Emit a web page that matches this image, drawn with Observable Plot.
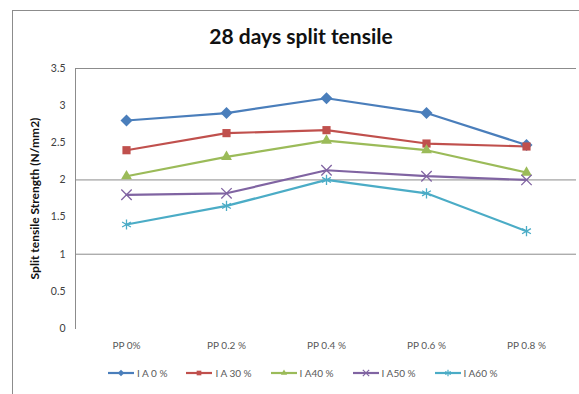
<!DOCTYPE html>
<html>
<head>
<meta charset="utf-8">
<script src="https://cdn.jsdelivr.net/npm/d3@7"></script>
<script src="https://cdn.jsdelivr.net/npm/@observablehq/plot@0.6"></script>
<style>
  html, body { margin: 0; padding: 0; background: #fff; overflow: hidden; }
  #wrap { position: relative; width: 579px; height: 394px; font-family: Lato, "Open Sans", sans-serif; }
  #border { position: absolute; left: 12px; top: 10px; width: 700px; height: 500px;
            border-left: 1px solid #8c8c8c; border-top: 1px solid #8c8c8c; }
  #title { position: absolute; left: 0; width: 602px; top: 23px; text-align: center;
           font-weight: bold; font-size: 21px; color: #111; }
  #chart { position: absolute; left: 0; top: 0; }
  #legend { position: absolute; top: 367px; left: 108px; display: flex; font-size: 10px; color: #595959; }
  #legend .item { display: flex; align-items: center; margin-right: 19px; }
  #legend svg { display: block; margin-right: 3px; }
</style>
</head>
<body>
<div id="wrap">
  <div id="border"></div>
  <div id="title">28 days split tensile</div>
  <div id="chart"></div>
  <div id="legend"></div>
</div>
<script>
// Fibre dosage categories along the x axis
const categories = ["PP 0%", "PP 0.2 %", "PP 0.4 %", "PP 0.6 %", "PP 0.8 %"];

// Split tensile strength (N/mm2) at 28 days for each replacement level
const seriesNames = ["I A 0 %", "I A 30 %", "I A40 %", "I A50 %", "I A60 %"];
const la0  = [2.80, 2.90, 3.10, 2.90, 2.47];
const la30 = [2.40, 2.63, 2.67, 2.49, 2.45];
const la40 = [2.05, 2.31, 2.53, 2.40, 2.10];
const la50 = [1.80, 1.82, 2.13, 2.05, 2.00];
const la60 = [1.40, 1.65, 2.00, 1.82, 1.31];

const yTicks = [0, 0.5, 1, 1.5, 2, 2.5, 3, 3.5];
const gridValues = [1, 2, 3.5];

const colors  = ["#4a7ebb", "#c0504d", "#9bbb59", "#8064a2", "#4bacc6"];
const symbols = ["diamond2", "square2", "triangle2", "times", "asterisk"];

const allSeries = [la0, la30, la40, la50, la60];
const rows = allSeries.flatMap((vals, s) =>
  vals.map((v, i) => ({series: seriesNames[s], cat: categories[i], value: v})));

const chart = Plot.plot({
  width: 579,
  height: 394,
  marginLeft: 75,
  marginRight: 3,
  marginTop: 68,
  marginBottom: 66,
  style: {fontFamily: "Lato, 'Open Sans', sans-serif", background: "transparent"},
  x: {type: "point", domain: categories, padding: 0.5},
  y: {domain: [0, 3.5]},
  color: {domain: seriesNames, range: colors},
  symbol: {domain: seriesNames, range: symbols},
  marks: [
    Plot.ruleY(gridValues, {stroke: "#8c8c8c", strokeWidth: 1, strokeOpacity: 1}),
    Plot.frame({anchor: "left", stroke: "#8c8c8c", strokeOpacity: 1}),
    Plot.axisY(yTicks, {
      ticks: yTicks, tickSize: 0, tickPadding: 10, tickFormat: d => String(d),
      fontSize: 10.5, fill: "#404040",
      label: "Split tensile Strength (N/mm2)", labelAnchor: "center", labelArrow: "none",
      labelOffset: 45
    }),
    Plot.axisX({tickSize: 0, tickPadding: 13, fontSize: 10, fill: "#595959", label: null}),
    ...allSeries.map((vals, s) =>
      Plot.line(rows.filter(d => d.series === seriesNames[s]), {
        x: "cat", y: "value", stroke: colors[s], strokeWidth: 2.2
      })),
    ...allSeries.map((vals, s) =>
      Plot.dot(rows.filter(d => d.series === seriesNames[s]), {
        x: "cat", y: "value", symbol: "series",
        fill: s < 3 ? colors[s] : "none",
        stroke: colors[s], strokeWidth: s < 3 ? 0 : 1.3,
        r: s === 0 ? 5.4 : s === 1 ? 5.2 : s === 2 ? 5.2 : 4.8
      }))
  ]
});
document.getElementById("chart").appendChild(chart);

// Bold axis title
d3.select(chart).selectAll("g[aria-label='y-axis label'] text")
  .attr("font-weight", "bold").attr("fill", "#111").attr("font-size", 12);

// Legend: line swatch with the series marker, then the name
const legend = d3.select("#legend");
seriesNames.forEach((name, s) => {
  const item = legend.append("div").attr("class", "item");
  const svg = item.append("svg").attr("width", 26).attr("height", 12);
  svg.append("line").attr("x1", 0).attr("x2", 26).attr("y1", 6).attr("y2", 6)
    .attr("stroke", colors[s]).attr("stroke-width", 2.2);
  const sym = {
    diamond2: d3.symbolDiamond2, square2: d3.symbolSquare2, triangle2: d3.symbolTriangle2,
    times: d3.symbolTimes, asterisk: d3.symbolAsterisk
  }[symbols[s]];
  svg.append("path").attr("transform", "translate(13,6)")
    .attr("d", d3.symbol(sym, 28)())
    .attr("fill", s < 3 ? colors[s] : "none")
    .attr("stroke", s < 3 ? "none" : colors[s]).attr("stroke-width", 1.2);
  item.append("span").text(name);
});
</script>
</body>
</html>
